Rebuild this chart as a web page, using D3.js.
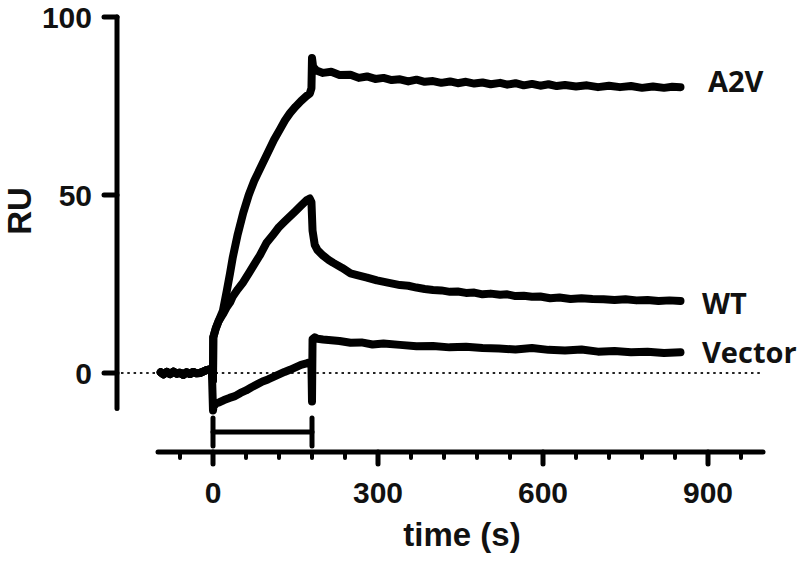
<!DOCTYPE html>
<html>
<head>
<meta charset="utf-8">
<script src="https://cdn.jsdelivr.net/npm/d3@7"></script>
<style>
  body { margin: 0; background: #fff; }
  svg { display: block; }
  .axis-line { stroke: #000; stroke-width: 5; stroke-linecap: round; fill: none; }
  .tick-lab { font-family: "Liberation Sans", Arial, sans-serif; font-weight: bold; font-size: 30px; fill: #111; }
  .trace { fill: none; stroke: #000; stroke-width: 8; stroke-linejoin: round; stroke-linecap: round; }
  .series-lab { font-family: "Open Sans", sans-serif; font-weight: bold; font-size: 29px; fill: #111; }
</style>
</head>
<body>
<svg id="chart" width="798" height="561"></svg>
<script>
// sensorgram traces (time in s, response in RU)
var baseT = [-95, -90, -84, -78, -72, -66, -60, -54, -48, -42, -36, -30, -24, -18, -12, -6, -2];
var baseV = [0.2, -0.4, 0.3, -0.3, 0.4, -0.2, 0.1, -0.5, 0.2, -0.3, 0.3, -0.1, 0.0, 0.4, 0.8, 1.0, 0.4];

var a2vT = [0, 0.5, 5, 10, 18, 25, 31, 36, 45, 55, 65, 75, 89, 100, 111, 122, 131, 140, 150, 160, 170, 176, 179,
            180, 182, 188, 200, 215, 230, 250, 265, 280, 295, 310, 325, 340, 355, 370, 385, 400, 415, 431, 445,
            460, 475, 490, 505, 522, 535, 550, 565, 580, 595, 610, 625, 640, 660, 680, 700, 720, 740, 760, 780,
            800, 820, 835, 850];
var a2vV = [-2, 10, 12.5, 14.5, 17.5, 23, 28, 32.5, 39, 45, 50, 54, 58.5, 62, 65.5, 68.5, 71, 73, 74.8, 76.4, 77.8, 78.5, 80,
            88.5, 86, 85.0, 84.3, 84.6, 83.7, 83.8, 82.9, 83.3, 82.6, 82.9, 82.3, 82.5, 81.9, 82.4, 81.8, 82.0, 81.5, 81.9, 81.4,
            81.8, 81.3, 81.6, 81.1, 81.5, 81.0, 81.4, 80.8, 81.2, 80.7, 81.1, 80.6, 80.9, 80.5, 80.8, 80.3, 80.7, 80.3, 80.6, 80.1,
            80.5, 80.1, 80.4, 80.3];

var wtT = [0, 0.5, 5, 10, 18, 25, 31, 36, 45, 55, 65, 75, 85, 97, 110, 120, 130, 140, 150, 160, 170, 176, 179,
           181, 185, 190, 200, 210, 218, 235, 250, 262, 280, 298, 320, 340, 355, 370, 385, 400, 415, 431, 445,
           460, 475, 490, 505, 522, 535, 550, 565, 580, 595, 613, 630, 650, 670, 690, 710, 730, 750, 770, 790,
           810, 830, 850];
var wtV = [-2, 10, 12.5, 14.5, 16.5, 18.5, 19.8, 21.5, 23.5, 25.5, 28, 30.5, 33, 36.5, 39, 41, 42.5, 44, 45.5, 47, 48.5, 49, 48,
           40, 36, 34.5, 33, 31.8, 31, 29.5, 28, 27.5, 26.8, 26, 25.3, 24.7, 24.5, 24, 23.6, 23.3, 23.2, 22.8, 22.9,
           22.5, 22.6, 22.1, 22.3, 22.0, 22.1, 21.6, 21.7, 21.4, 21.5, 21.0, 21.2, 20.8, 21.0, 20.8, 20.7, 20.5, 20.7, 20.4, 20.5,
           20.2, 20.4, 20.2];

var vecT = [0, 1, 5, 12, 20, 30, 40, 50, 60, 70, 80, 90, 100, 110, 120, 130, 140, 150, 160, 170, 176, 179,
            180, 181, 185, 190, 200, 215, 230, 250, 270, 290, 310, 340, 370, 400, 430, 460, 490, 520, 550, 580,
            610, 640, 670, 700, 730, 760, 790, 820, 850];
var vecV = [-10.5, -9.5, -8.6, -8.2, -7.6, -7.0, -6.5, -5.6, -4.9, -4.0, -3.2, -2.4, -1.8, -1.1, -0.4, 0.3, 0.9, 1.6, 2.3, 2.7, 3.0, 2.5,
            -8, 9.5, 10, 9.6, 9.4, 9.2, 9.0, 8.5, 8.6, 8.0, 8.3, 7.9, 7.5, 7.6, 7.2, 7.4, 7.0, 6.9, 6.6, 7.0,
            6.5, 6.3, 6.6, 6.0, 6.2, 5.8, 6.0, 5.6, 5.8];

var seriesNames = ["A2V", "WT", "Vector"];
var injection = [0, 180];

var xMajor = [0, 300, 600, 900];
var xMinor = [-60, 60, 120, 180, 240, 360, 420, 480, 540, 660, 720, 780, 840, 960];
var yTicks = [0, 50, 100];

var svg = d3.select("#chart");

var x = d3.scaleLinear().domain([-100, 1000]).range([158, 763]);
var y = d3.scaleLinear().domain([-10, 100]).range([408.6, 17]);

var axisX = 117, axisY = 452;

// dotted zero line
svg.append("line")
    .attr("x1", 121).attr("x2", x(1000))
    .attr("y1", y(0)).attr("y2", y(0))
    .attr("stroke", "#222")
    .attr("stroke-width", 2)
    .attr("stroke-dasharray", "2.5,3.8");

// y axis
svg.append("line").classed("axis-line", true)
    .attr("x1", axisX).attr("x2", axisX)
    .attr("y1", y(100)).attr("y2", y(-10));
svg.selectAll(".ytick")
    .data(yTicks)
    .enter().append("line")
    .classed("axis-line ytick", true)
    .attr("x1", axisX - 13).attr("x2", axisX)
    .attr("y1", function(d) { return y(d); })
    .attr("y2", function(d) { return y(d); });
svg.selectAll(".ylab")
    .data(yTicks)
    .enter().append("text")
    .classed("tick-lab ylab", true)
    .attr("x", 92)
    .attr("y", function(d) { return y(d); })
    .attr("dy", "0.35em")
    .attr("text-anchor", "end")
    .text(function(d) { return d; });

svg.append("text")
    .classed("tick-lab", true)
    .style("font-size", "33px")
    .attr("transform", "translate(31,211) rotate(-90)")
    .attr("text-anchor", "middle")
    .text("RU");

// x axis
svg.append("line").classed("axis-line", true)
    .attr("x1", x(-100)).attr("x2", x(1000))
    .attr("y1", axisY).attr("y2", axisY);
svg.selectAll(".xmaj")
    .data(xMajor)
    .enter().append("line")
    .classed("axis-line xmaj", true)
    .attr("x1", function(d) { return x(d); })
    .attr("x2", function(d) { return x(d); })
    .attr("y1", axisY).attr("y2", axisY + 12);
svg.selectAll(".xmin")
    .data(xMinor)
    .enter().append("line")
    .classed("axis-line xmin", true)
    .style("stroke-width", 4)
    .attr("x1", function(d) { return x(d); })
    .attr("x2", function(d) { return x(d); })
    .attr("y1", axisY).attr("y2", axisY + 6);
svg.selectAll(".xlab")
    .data(xMajor)
    .enter().append("text")
    .classed("tick-lab xlab", true)
    .attr("x", function(d) { return x(d); })
    .attr("y", 503)
    .attr("text-anchor", "middle")
    .text(function(d) { return d; });

svg.append("text")
    .classed("tick-lab", true)
    .style("font-size", "33px")
    .attr("x", 462).attr("y", 546)
    .attr("text-anchor", "middle")
    .text("time (s)");

// injection bar
svg.append("line").classed("axis-line", true)
    .attr("x1", x(injection[0])).attr("x2", x(injection[1]))
    .attr("y1", 432).attr("y2", 432);
svg.selectAll(".inj")
    .data(injection)
    .enter().append("line")
    .classed("axis-line inj", true)
    .attr("x1", function(d) { return x(d); })
    .attr("x2", function(d) { return x(d); })
    .attr("y1", 418).attr("y2", 446);

// traces
var line = d3.line()
    .x(function(d) { return x(d[0]); })
    .y(function(d) { return y(d[1]); });

function build(tt, vv) {
    var pts = baseT.map(function(t, i) { return [t, baseV[i]]; });
    return pts.concat(tt.map(function(t, i) { return [t, vv[i]]; }));
}
var traces = [build(a2vT, a2vV), build(wtT, wtV), build(vecT, vecV)];

svg.selectAll(".trace")
    .data(traces)
    .enter().append("path")
    .classed("trace", true)
    .attr("d", line);

// labels at the end of each trace
var labY = [82, 304, 353];
var labX = [708, 702, 702];
svg.selectAll(".series-lab")
    .data(seriesNames)
    .enter().append("text")
    .classed("series-lab", true)
    .attr("x", function(d, i) { return labX[i]; })
    .attr("y", function(d, i) { return labY[i]; })
    .attr("dy", "0.36em")
    .text(function(d) { return d; });
</script>
</body>
</html>
